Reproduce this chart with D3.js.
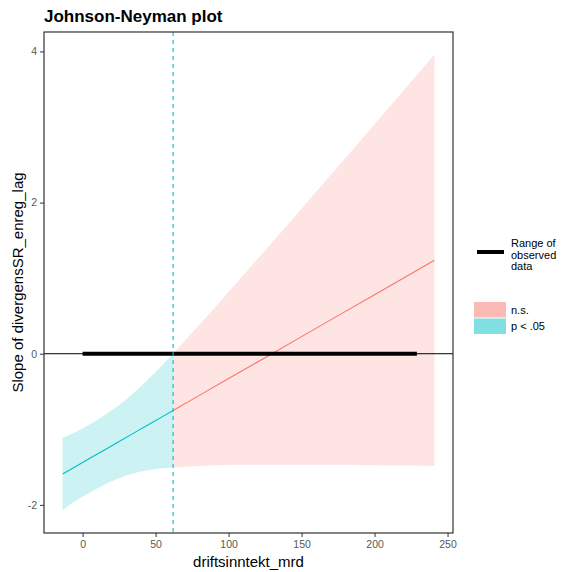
<!DOCTYPE html>
<html>
<head>
<meta charset="utf-8">
<script src="https://cdn.jsdelivr.net/npm/d3@7/dist/d3.min.js"></script>
<style>
  body { margin: 0; background: #fff; }
  svg { display: block; font-family: "Liberation Sans", Arial, sans-serif; }
</style>
</head>
<body>
<svg id="chart" width="563" height="572"></svg>
<script>
// ---- data ----
const title = "Johnson-Neyman plot";
const xLabel = "driftsinntekt_mrd";
const yLabel = "Slope of divergensSR_enreg_lag";
const legendLineLabel = ["Range of", "observed", "data"];
const legendFillLabels = ["n.s.", "p < .05"];

// significant region (p < .05), moderator values up to the J-N point
const sigX     = [-13.7, -5, 5, 15, 25, 35, 45, 55, 62];
const sigEst   = [-1.591, -1.495, -1.384, -1.273, -1.162, -1.051, -0.940, -0.829, -0.751];
const sigLower = [-2.071, -1.950, -1.835, -1.733, -1.647, -1.582, -1.542, -1.517, -1.506];
const sigUpper = [-1.111, -1.040, -0.933, -0.813, -0.677, -0.520, -0.338, -0.141, 0.000];

// non-significant region
const nsX     = [62, 80, 100, 125, 150, 175, 200, 225, 241];
const nsEst   = [-0.751, -0.551, -0.329, -0.052, 0.226, 0.504, 0.781, 1.059, 1.236];
const nsLower = [-1.506, -1.486, -1.474, -1.469, -1.468, -1.470, -1.475, -1.480, -1.484];
const nsUpper = [0.000, 0.384, 0.816, 1.366, 1.920, 2.478, 3.037, 3.598, 3.956];

const jnPoint = [62];
const observedRange = [0, 229];
const xTicks = [0, 50, 100, 150, 200, 250];
const yTicks = [-2, 0, 2, 4];

// ---- layout ----
const svg = d3.select("#chart");
const panel = { left: 44, right: 453, top: 32, bottom: 533 };

const sig = sigX.map((x, i) => ({ x, est: sigEst[i], lo: sigLower[i], hi: sigUpper[i] }));
const ns  = nsX.map((x, i) => ({ x, est: nsEst[i], lo: nsLower[i], hi: nsUpper[i] }));
const all = sig.concat(ns);

function expand(ext, f) { const d = (ext[1] - ext[0]) * f; return [ext[0] - d, ext[1] + d]; }
const xExt = d3.extent(all, d => d.x);
const yExt = [d3.min(all, d => d.lo), d3.max(all, d => d.hi)];

const x = d3.scaleLinear().domain(expand(xExt, 0.05)).range([panel.left, panel.right]);
const y = d3.scaleLinear().domain(expand(yExt, 0.05)).range([panel.bottom, panel.top]);

const colNS = "#F8766D", colSig = "#00BFC4";

const area = d3.area().curve(d3.curveMonotoneX).x(d => x(d.x)).y0(d => y(d.lo)).y1(d => y(d.hi));
const line = d3.line().x(d => x(d.x)).y(d => y(d.est));

const g = svg.append("g");

// bands
g.append("path").datum(ns).attr("d", area).attr("fill", colNS).attr("fill-opacity", 0.2);
g.append("path").datum(sig).attr("d", area).attr("fill", colSig).attr("fill-opacity", 0.2);

// zero line
g.append("line")
  .attr("x1", panel.left).attr("x2", panel.right)
  .attr("y1", y(0)).attr("y2", y(0))
  .attr("stroke", "#000").attr("stroke-width", 1);

// estimate lines
g.append("path").datum(ns).attr("d", line).attr("fill", "none").attr("stroke", colNS).attr("stroke-width", 1.1);
g.append("path").datum(sig).attr("d", line).attr("fill", "none").attr("stroke", colSig).attr("stroke-width", 1.1);

// observed range
g.append("line")
  .attr("x1", x(observedRange[0])).attr("x2", x(observedRange[1]))
  .attr("y1", y(0)).attr("y2", y(0))
  .attr("stroke", "#000").attr("stroke-width", 4);

// J-N dashed line
g.selectAll(".jn").data(jnPoint).enter().append("line")
  .attr("x1", d => x(d)).attr("x2", d => x(d))
  .attr("y1", panel.top).attr("y2", panel.bottom)
  .attr("stroke", colSig).attr("stroke-width", 1.1).attr("stroke-dasharray", "4,4");

// panel border
svg.append("rect")
  .attr("x", panel.left).attr("y", panel.top)
  .attr("width", panel.right - panel.left).attr("height", panel.bottom - panel.top)
  .attr("fill", "none").attr("stroke", "#333").attr("stroke-width", 1.2);

// axes
const fmt = d => String(d);
const xAxis = svg.append("g").attr("transform", `translate(0,${panel.bottom})`)
  .call(d3.axisBottom(x).tickValues(xTicks).tickSize(4).tickPadding(4).tickFormat(fmt));
const yAxis = svg.append("g").attr("transform", `translate(${panel.left},0)`)
  .call(d3.axisLeft(y).tickValues(yTicks).tickSize(4).tickPadding(3).tickFormat(fmt));
[xAxis, yAxis].forEach(a => {
  a.select(".domain").remove();
  a.selectAll(".tick line").attr("stroke", "#333");
  a.selectAll(".tick text").attr("fill", "#595959").attr("font-size", "10.5px")
    .attr("font-family", "Liberation Sans, Arial, sans-serif");
});

// titles
svg.append("text").attr("x", panel.left).attr("y", 22)
  .attr("font-size", "17px").attr("font-weight", "bold").attr("fill", "#000").text(title);

svg.append("text").attr("x", (panel.left + panel.right) / 2).attr("y", 567)
  .attr("text-anchor", "middle").attr("font-size", "15px").attr("fill", "#000").text(xLabel);

svg.append("text")
  .attr("transform", `translate(22.5,${(panel.top + panel.bottom) / 2}) rotate(-90)`)
  .attr("text-anchor", "middle").attr("font-size", "15px").attr("fill", "#000").text(yLabel);

// legend
const lg = svg.append("g");
lg.append("line").attr("x1", 477).attr("x2", 504).attr("y1", 252).attr("y2", 252)
  .attr("stroke", "#000").attr("stroke-width", 4);
lg.selectAll(".ll").data(legendLineLabel).enter().append("text")
  .attr("x", 511).attr("y", (d, i) => 247 + i * 11.5)
  .attr("font-size", "11px").attr("fill", "#000").text(d => d);

const keyCols = [colNS, colSig];
lg.selectAll(".key").data(legendFillLabels).enter().append("rect")
  .attr("x", 474).attr("y", (d, i) => 302 + i * 16.5)
  .attr("width", 32).attr("height", 15.5)
  .attr("fill", (d, i) => keyCols[i]).attr("fill-opacity", 0.5);
lg.selectAll(".kl").data(legendFillLabels).enter().append("text")
  .attr("x", 511).attr("y", (d, i) => 313.5 + i * 16.5)
  .attr("font-size", "11px").attr("fill", "#000").text(d => d);
</script>
</body>
</html>
